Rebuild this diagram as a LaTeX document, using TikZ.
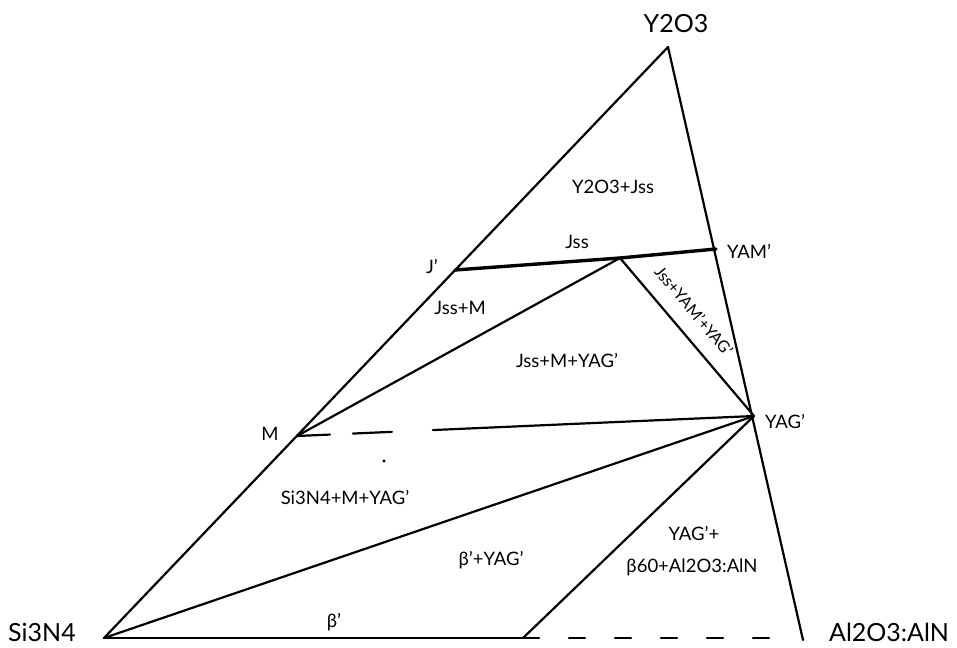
\documentclass[tikz,border=0pt]{standalone}
\usepackage{fontspec}
\setmainfont{Lato}
\usetikzlibrary{calc}

\begin{document}
\begin{tikzpicture}[x=1pt, y=-1pt, line join=round, line cap=round,
  edge/.style={line width=2.2pt},
  corner/.style={font=\fontsize{25}{27}\selectfont},
  field/.style={font=\fontsize{18.5}{21}\selectfont, inner sep=1pt}]

\useasboundingbox (0,0) rectangle (957,647);

% --- corners of the diagram ---
\coordinate (si)  at (104,638);
\coordinate (yo)  at (668,47);
\coordinate (al)  at (803,640);
\coordinate (jp)  at (455,270);
\coordinate (jss) at (620,258);
\coordinate (yam) at (716,249);
\coordinate (yag) at (754,416);
\coordinate (m)   at (297,436);
\coordinate (b60) at (523,638);
\coordinate (dend) at (778,638);

% --- outer triangle ---
\draw[edge] (si) -- (yo) -- (al);
\draw[edge] (si) -- (b60);
\draw[edge, dash pattern=on 16pt off 30pt] (b60) -- (dend);

% --- tie lines ---
\draw[line width=3.4pt] (jp) -- (jss) -- (yam);
\draw[edge] (m) -- (jss) -- (yag);
\draw[edge, dash pattern=on 33pt off 23pt on 39pt off 41pt on 400pt] (m) -- (yag);
\draw[edge] (si) -- (yag) -- (b60);
\fill (384,461) circle (1.6);

% --- corner labels ---
\node[corner] (lyo) at (676,24) {Y2O3};
\node[corner] (lsi) at (42,632) {Si3N4};
\node[corner] (lal) at (889,632) {Al2O3:AlN};
\node[field] (lyam) at (749,251) {YAM'};
\node[field] (ljp) at (432,267) {J'};
\node[field] (lm) at (270,434) {M};
\node[field] (lyag) at (785,421) {YAG'};

% --- phase fields ---
\node[field] (f1) at (613,187) {Y2O3+Jss};
\node[field] (f2) at (577,242) {Jss};
\node[field] (f3) at (460,308) {Jss+M};
\node[field] (f4) at (567,360) {Jss+M+YAG'};
\node[field, font=\fontsize{16}{18}\selectfont, rotate=-50] (f5) at (694,311) {Jss+YAM'+YAG'};
\node[field] (f6) at (345,497) {Si3N4+M+YAG'};
\node[field] (f7) at (491,560) {β'+YAG'};
\node[field] (f8) at (334,622) {β'};
\node[field] (f9) at (694,533) {YAG'+};
\node[field] (f10) at (692,567) {β60+Al2O3:AlN};

\end{tikzpicture}
\end{document}
